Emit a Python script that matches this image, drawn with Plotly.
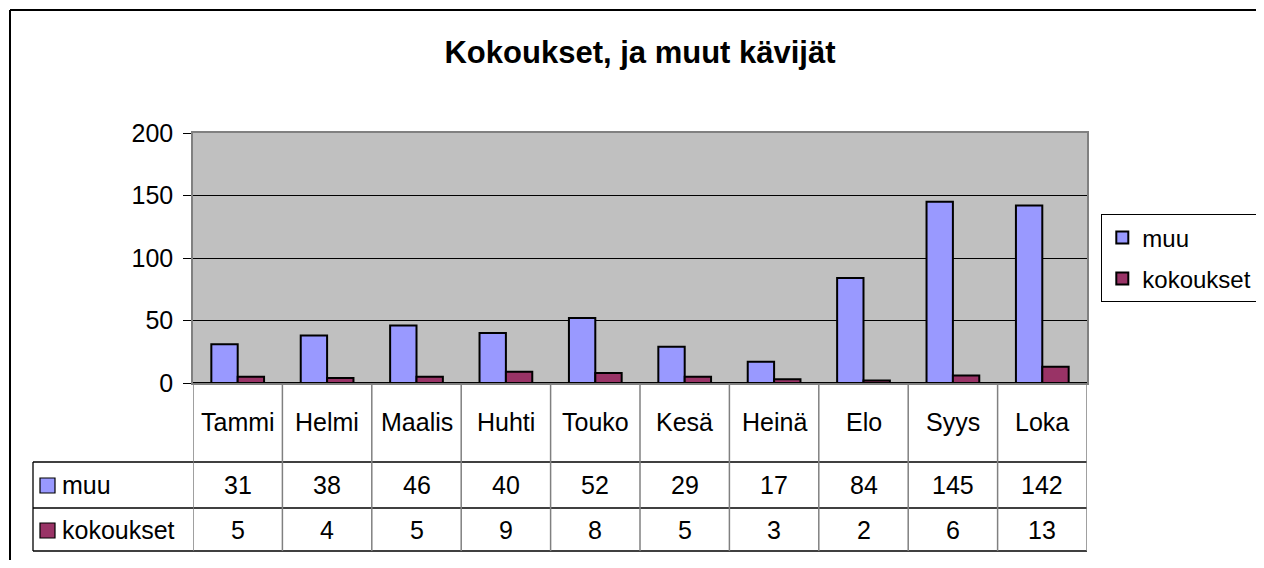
import plotly.graph_objects as go

categories = ["Tammi", "Helmi", "Maalis", "Huhti", "Touko", "Kesä", "Heinä", "Elo", "Syys", "Loka"]
muu = [31, 38, 46, 40, 52, 29, 17, 84, 145, 142]
kokoukset = [5, 4, 5, 9, 8, 5, 3, 2, 6, 13]
y_ticks = [0, 50, 100, 150, 200]

COLOR_MUU = "#9999FF"
COLOR_KOK = "#993366"
FONT = "Arial, Liberation Sans, sans-serif"
FS = 25

# page has an 8px body margin, so the figure is laid out 8px in from the corner
# and kept small enough that no scrollbars appear
OFF = 8
W, H = 1264 - 2 * OFF, 568 - 2 * OFF
L, T = 193 - OFF, 133 - OFF
PLOT_W, PLOT_H = 894, 250
R = W - L - PLOT_W
B = H - T - PLOT_H


def px_x(p):
    # screen pixel -> paper x
    return (p - OFF - L) / PLOT_W


def px_y(p):
    # screen pixel -> paper y
    return (H - B - (p - OFF)) / PLOT_H


fig = go.Figure()

fig.add_trace(go.Bar(
    x=categories, y=muu, name="muu",
    marker=dict(color=COLOR_MUU, line=dict(color="black", width=2)),
    legendgroup="a"
))
fig.add_trace(go.Bar(
    x=categories, y=kokoukset, name="kokoukset",
    marker=dict(color=COLOR_KOK, line=dict(color="black", width=2)),
    legendgroup="b"
))

shapes = []
annotations = []

# outer chart frame (right and bottom sides fall outside the picture)
shapes.append(dict(type="line", xref="paper", yref="paper",
                   x0=px_x(10), x1=px_x(1400), y0=px_y(10), y1=px_y(10),
                   line=dict(color="black", width=2)))
shapes.append(dict(type="line", xref="paper", yref="paper",
                   x0=px_x(10), x1=px_x(10), y0=px_y(10), y1=px_y(700),
                   line=dict(color="black", width=2)))

# data table
for yy in [462, 508, 551]:
    shapes.append(dict(type="line", xref="paper", yref="paper",
                       x0=px_x(33), x1=1, y0=px_y(yy), y1=px_y(yy),
                       line=dict(color="black", width=1.3)))
shapes.append(dict(type="line", xref="paper", yref="paper",
                   x0=px_x(33), x1=px_x(33), y0=px_y(551), y1=px_y(462),
                   line=dict(color="black", width=1.3)))
for i in range(len(categories) + 1):
    shapes.append(dict(type="line", xref="x", yref="paper",
                       x0=i - 0.5, x1=i - 0.5, y0=px_y(551), y1=0,
                       line=dict(color="#808080", width=1.5)))

for c in categories:
    annotations.append(dict(x=c, xref="x", y=px_y(422), yref="paper",
                            yanchor="middle", text=c, showarrow=False,
                            font=dict(size=FS)))

rows = [("muu", muu, COLOR_MUU, 485), ("kokoukset", kokoukset, COLOR_KOK, 530)]
for label, vals, col, yc in rows:
    shapes.append(dict(type="rect", xref="paper", yref="paper",
                       x0=px_x(40), x1=px_x(55), y0=px_y(yc + 8), y1=px_y(yc - 7),
                       fillcolor=col, line=dict(color="black", width=1.2)))
    annotations.append(dict(x=px_x(60), xref="paper", y=px_y(yc), yref="paper",
                            yanchor="middle", xanchor="left", text=label,
                            showarrow=False, font=dict(size=FS)))
    for c, v in zip(categories, vals):
        annotations.append(dict(x=c, xref="x", y=px_y(yc), yref="paper",
                                yanchor="middle", text=str(v), showarrow=False,
                                font=dict(size=FS)))

fig.update_layout(
    width=W, height=H,
    margin=dict(l=L, r=R, t=T, b=B, pad=0),
    paper_bgcolor="white",
    plot_bgcolor="#C0C0C0",
    font=dict(family=FONT, size=FS, color="black"),
    title=dict(text="<b>Kokoukset, ja muut kävijät</b>", x=0.5, xref="paper",
               y=1 - (52 - OFF) / H, yref="container", yanchor="middle",
               xanchor="center", font=dict(size=31, color="black")),
    barmode="group",
    bargap=0.41,
    bargroupgap=0,
    xaxis=dict(showticklabels=False, ticks="", showgrid=False, zeroline=False,
               showline=True, linecolor="#808080", linewidth=1.5, mirror=True,
               range=[-0.5, len(categories) - 0.5]),
    yaxis=dict(range=[0, 200], tickvals=y_ticks, ticks="outside", ticklen=8,
               tickcolor="black", tickwidth=1.3, showgrid=True, gridcolor="black",
               gridwidth=1.3, zeroline=True, zerolinecolor="black", zerolinewidth=1.5,
               showline=True, linecolor="#808080", linewidth=1.5, mirror=True,
               ticklabelstandoff=5, tickfont=dict(size=FS)),
    showlegend=True,
    legend=dict(xref="container", yref="container",
                x=(1101 - OFF) / W, y=1 - (214 - OFF) / H,
                xanchor="left", yanchor="top", bgcolor="white",
                bordercolor="black", borderwidth=1.3,
                font=dict(size=24), traceorder="grouped", tracegroupgap=7),
    shapes=shapes,
    annotations=annotations,
)

fig.write_html("out.html")
